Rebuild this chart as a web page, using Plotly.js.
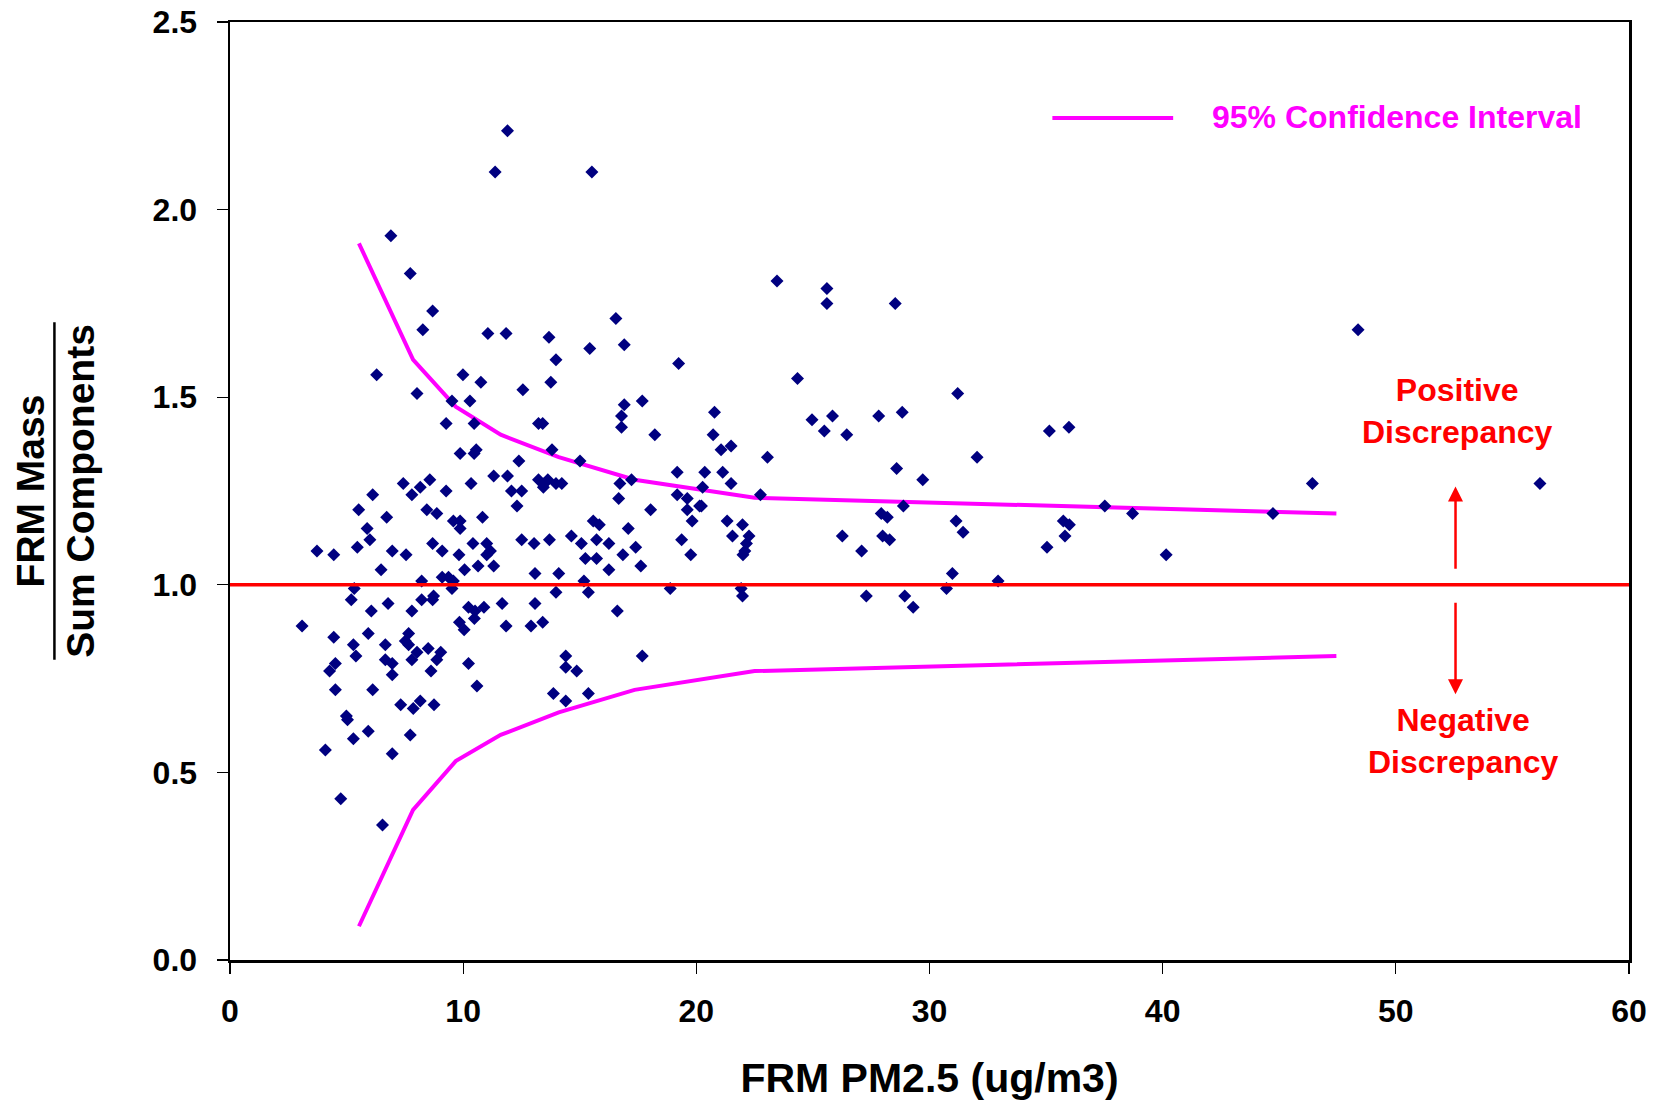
<!DOCTYPE html>
<html>
<head>
<meta charset="utf-8">
<script src="https://cdn.plot.ly/plotly-3.0.1.min.js"></script>
<style>
  html, body { margin: 0; padding: 0; background: #ffffff; }
  #chart { width: 1655px; height: 1101px; }
</style>
</head>
<body>
<div id="chart"></div>
<script>
// ---- Data ----
var frmPM25 = [
  11.90, 11.37, 15.52, 6.90, 7.73, 8.69, 8.27, 11.06, 11.84, 13.68,
  16.55, 16.91, 15.43, 13.98, 13.76, 19.24, 6.29, 8.02, 9.99, 10.76,
  12.56,
  9.52, 10.29, 16.91, 17.68, 9.27, 10.47, 13.23, 13.41, 16.79, 16.79,
  18.22, 9.87, 10.47, 10.56, 13.81, 15.01, 12.39, 11.31, 11.90, 10.34,
  7.43, 8.16, 8.57, 7.80, 9.27, 6.12, 12.07, 12.51, 12.31, 13.23,
  13.48, 13.63, 13.44, 13.98, 14.23, 16.72, 17.22, 16.67, 18.04, 19.18,
  19.18, 19.61, 19.61, 20.14, 19.82, 5.52, 6.72, 5.88, 6.00, 8.44,
  8.87, 9.58, 9.87, 9.87, 10.83, 3.73, 4.45, 5.46, 6.96, 7.55,
  8.69, 9.10, 9.82, 10.42, 11.01, 11.17, 11.01, 12.51, 13.04, 13.70,
  14.64, 15.07, 15.58, 15.84, 15.72, 16.25, 15.24, 15.72, 17.08, 16.85,
  17.40, 17.62, 16.25, 19.37, 19.76, 6.48, 10.06, 10.64, 11.31, 8.22,
  9.10, 9.37, 9.58, 9.52, 13.08, 14.10, 15.18, 18.88, 5.33, 5.20,
  6.78, 6.06, 8.22, 8.73, 8.69, 7.80, 10.23, 10.51, 10.48, 10.89,
  11.67, 13.08, 13.98, 15.37, 16.61, 9.84, 10.04, 11.84, 12.91, 13.41,
  3.09, 4.45, 5.93, 5.29, 6.66, 7.66, 7.52, 7.66, 8.02, 8.50,
  9.04, 8.87, 5.40, 4.52, 4.27, 6.66, 6.96, 6.96, 7.80, 8.62,
  10.23, 10.59, 14.40, 14.40, 14.87, 17.68, 13.87, 14.40, 15.37, 4.52,
  6.12, 7.32, 7.86, 8.16, 8.75, 4.99, 5.04, 5.93, 5.29, 7.73,
  4.09, 6.96, 4.75, 6.54,
  23.46, 25.60, 25.60, 28.53, 24.34, 31.21, 20.78, 27.82, 28.83, 24.96,
  25.84, 25.49, 26.45, 20.72, 35.14, 35.98, 21.06, 21.49, 23.05, 32.04,
  20.36, 21.13, 21.49, 28.59, 29.71, 20.27, 22.75,
  20.22, 28.88, 37.52, 38.71, 21.32, 21.98, 21.55, 22.26, 22.15, 22.08,
  22.00, 26.26, 27.09, 27.93, 28.19, 27.99, 28.29, 31.14, 31.44, 35.04,
  35.74, 36.00, 35.81, 30.98, 32.94, 21.92, 21.98, 27.29, 28.94, 29.30,
  30.73,
  48.38, 46.42, 56.18, 44.73, 40.15
];
var massRatio = [
  2.21, 2.10, 2.10, 1.93, 1.83, 1.73, 1.68, 1.67, 1.67, 1.66,
  1.71, 1.64, 1.63, 1.60, 1.54, 1.59, 1.56, 1.51, 1.56, 1.54,
  1.52,
  1.49, 1.49, 1.48, 1.49, 1.43, 1.43, 1.43, 1.43, 1.45, 1.42,
  1.40, 1.35, 1.35, 1.36, 1.36, 1.33, 1.33, 1.29, 1.29, 1.27,
  1.27, 1.26, 1.28, 1.24, 1.25, 1.24, 1.25, 1.25, 1.21, 1.28,
  1.27, 1.28, 1.26, 1.27, 1.27, 1.27, 1.28, 1.23, 1.20, 1.30,
  1.24, 1.23, 1.20, 1.21, 1.17, 1.20, 1.18, 1.15, 1.12, 1.20,
  1.19, 1.17, 1.17, 1.15, 1.18, 1.09, 1.08, 1.10, 1.09, 1.08,
  1.11, 1.09, 1.08, 1.11, 1.11, 1.09, 1.08, 1.12, 1.11, 1.12,
  1.13, 1.11, 1.17, 1.16, 1.12, 1.11, 1.07, 1.07, 1.15, 1.08,
  1.10, 1.05, 1.04, 1.12, 1.08, 1.04, 1.04, 1.05, 1.05, 1.01,
  1.02, 1.02, 1.01, 0.99, 1.03, 1.03, 1.01, 0.99, 0.99, 0.96,
  0.95, 0.93, 0.96, 0.97, 0.96, 0.93, 0.94, 0.93, 0.91, 0.94,
  0.95, 0.95, 0.98, 0.98, 0.93, 0.90, 0.88, 0.89, 0.89, 0.90,
  0.89, 0.86, 0.87, 0.84, 0.84, 0.87, 0.85, 0.84, 0.82, 0.83,
  0.82, 0.80, 0.81, 0.79, 0.77, 0.80, 0.79, 0.76, 0.80, 0.77,
  0.79, 0.73, 0.81, 0.78, 0.77, 0.81, 0.71, 0.69, 0.71, 0.72,
  0.72, 0.68, 0.67, 0.69, 0.68, 0.65, 0.64, 0.61, 0.59, 0.60,
  0.56, 0.55, 0.43, 0.36,
  1.81, 1.79, 1.75, 1.75, 1.55, 1.51, 1.46, 1.45, 1.46, 1.44,
  1.45, 1.41, 1.40, 1.40, 1.41, 1.42, 1.36, 1.37, 1.34, 1.34,
  1.30, 1.30, 1.27, 1.31, 1.28, 1.26, 1.24,
  1.21, 1.21, 1.21, 1.19, 1.17, 1.16, 1.13, 1.13, 1.11, 1.09,
  1.08, 1.13, 1.09, 1.19, 1.18, 1.13, 1.12, 1.17, 1.14, 1.10,
  1.17, 1.16, 1.13, 1.03, 1.01, 0.99, 0.97, 0.97, 0.97, 0.94,
  0.99,
  1.68, 1.27, 1.27, 1.19, 1.08
];

// 95% confidence interval curves
var ciX     = [5.53, 7.85, 9.68, 11.61, 14.10, 17.35, 22.50, 47.45];
var ciUpper = [1.91, 1.60, 1.475, 1.40, 1.34, 1.28, 1.232, 1.19];
var ciLower = [0.09, 0.40, 0.53, 0.60, 0.66, 0.72, 0.77, 0.81];

// reference ratio line (FRM / sum = 1)
var refX = [0, 60];
var refY = [1.0, 1.0];

// axis ticks
var xTicks = [0, 10, 20, 30, 40, 50, 60];
var yTicks = [0.0, 0.5, 1.0, 1.5, 2.0, 2.5];

// annotation texts
var legendLabel = '95% Confidence Interval';
var xTitle = 'FRM PM2.5 (ug/m3)';
var yTitleTop = 'FRM Mass';
var yTitleBottom = 'Sum Components';
var posLabel = 'Positive<br>Discrepancy';
var negLabel = 'Negative<br>Discrepancy';

// ---- Chart ----
var FONT = 'Liberation Sans, Arial, Helvetica, sans-serif';
var MAGENTA = '#FF00FF';
var NAVY = '#000080';
var RED = '#FF0000';

var traces = [
  {
    x: ciX, y: ciUpper, type: 'scatter', mode: 'lines',
    line: { color: MAGENTA, width: 4 }, name: legendLabel, showlegend: false, hoverinfo: 'skip'
  },
  {
    x: ciX, y: ciLower, type: 'scatter', mode: 'lines',
    line: { color: MAGENTA, width: 4 }, name: legendLabel, showlegend: false, hoverinfo: 'skip'
  },
  {
    x: frmPM25, y: massRatio, type: 'scatter', mode: 'markers',
    marker: { symbol: 'diamond', size: 10, color: NAVY, line: { width: 0 } },
    name: 'FRM / Sum', showlegend: false
  },
  {
    x: refX, y: refY, type: 'scatter', mode: 'lines',
    line: { color: RED, width: 3.5 }, showlegend: false, hoverinfo: 'skip', cliponaxis: false
  }
];

var axisCommon = {
  showline: true, linecolor: '#000000', linewidth: 2.5, mirror: true,
  ticks: 'outside', ticklen: 11, tickwidth: 1.2, tickcolor: '#000000',
  showgrid: false, zeroline: false,
  tickfont: { family: FONT, size: 32, color: '#000000', weight: 'bold' }
};

var layout = {
  width: 1655, height: 1101,
  paper_bgcolor: '#ffffff', plot_bgcolor: '#ffffff',
  margin: { l: 230, r: 26, t: 22, b: 141 },
  showlegend: false,
  xaxis: Object.assign({}, axisCommon, {
    range: [0, 60], tickmode: 'array', tickvals: xTicks,
    ticktext: xTicks.map(function (v) { return String(v); }),
    ticklabelstandoff: 10,
    title: { text: xTitle, font: { family: FONT, size: 41, color: '#000000', weight: 'bold' }, standoff: 38 }
  }),
  yaxis: Object.assign({}, axisCommon, {
    range: [0, 2.5], tickmode: 'array', tickvals: yTicks,
    ticktext: yTicks.map(function (v) { return v.toFixed(1); }),
    ticklabelstandoff: 13,
    title: { text: yTitleTop + '<br>' + yTitleBottom, font: { family: FONT, size: 39, color: '#000000', weight: 'bold' }, standoff: 46 }
  }),
  shapes: [
    // fraction bar of the y-axis title
    { type: 'line', xref: 'paper', yref: 'paper', x0: -0.1255, x1: -0.1255, y0: 0.320, y1: 0.680,
      line: { color: '#000000', width: 2.5 } },
    // legend sample line
    { type: 'line', xref: 'x', yref: 'y', x0: 35.27, x1: 40.45, y0: 2.244, y1: 2.244,
      line: { color: MAGENTA, width: 4 } }
  ],
  annotations: [
    { x: 42.04, y: 2.247, xref: 'x', yref: 'y', text: legendLabel, showarrow: false,
      xanchor: 'left', yanchor: 'middle',
      font: { family: FONT, size: 32, color: MAGENTA, weight: 'bold' } },
    { x: 52.64, y: 1.462, xref: 'x', yref: 'y', text: posLabel, showarrow: false,
      xanchor: 'center', yanchor: 'middle',
      font: { family: FONT, size: 32, color: RED, weight: 'bold' } },
    { x: 52.9, y: 0.585, xref: 'x', yref: 'y', text: negLabel, showarrow: false,
      xanchor: 'center', yanchor: 'middle',
      font: { family: FONT, size: 32, color: RED, weight: 'bold' } },
    { x: 52.56, y: 1.262, xref: 'x', yref: 'y', ax: 52.56, ay: 1.039, axref: 'x', ayref: 'y',
      text: '', showarrow: true, arrowhead: 2, arrowsize: 1.2, arrowwidth: 2.5, arrowcolor: RED },
    { x: 52.56, y: 0.708, xref: 'x', yref: 'y', ax: 52.56, ay: 0.956, axref: 'x', ayref: 'y',
      text: '', showarrow: true, arrowhead: 2, arrowsize: 1.2, arrowwidth: 2.5, arrowcolor: RED }
  ]
};

Plotly.newPlot('chart', traces, layout, { displayModeBar: false, staticPlot: true });
</script>
</body>
</html>
